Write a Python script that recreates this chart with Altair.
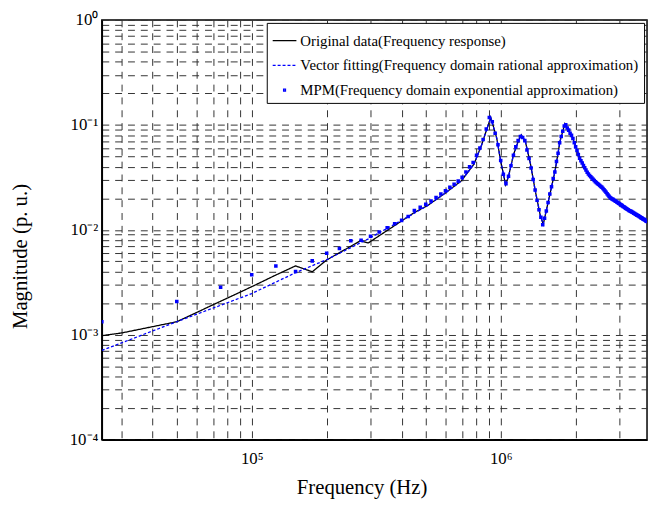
import altair as alt
import pandas as pd

S_ORIG = "Original data(Frequency response)"
S_VF = "Vector fitting(Frequency domain rational approximation)"
S_MPM = "MPM(Frequency domain exponential approximation)"
series_names = [S_ORIG, S_VF, S_MPM]

# Original data (black solid line)
orig_freq = [2.5e4, 3.0e4, 5.0e4, 1.0e5, 1.256e5, 1.5e5, 1.75e5, 2.0e5, 2.73e5, 2.94e5,
             4.52e5, 5.08e5, 5.94e5, 6.94e5, 7.81e5, 8.4e5, 8.65e5, 8.96e5, 9.12e5, 9.64e5,
             1.0e6, 1.047e6, 1.076e6, 1.127e6, 1.18e6, 1.21e6, 1.256e6, 1.315e6, 1.377e6, 1.442e6,
             1.482e6, 1.55e6, 1.653e6, 1.73e6, 1.81e6, 1.95e6, 2.08e6, 2.23e6, 2.4e6, 2.56e6,
             2.76e6, 2.99e6, 3.28e6, 3.6e6, 3.87e6]
orig_mag = [9.8e-4, 1.04e-3, 1.33e-3, 2.87e-3, 3.73e-3, 4.53e-3, 3.98e-3, 5.16e-3, 7.85e-3, 7.5e-3,
            0.0147, 0.0170, 0.0221, 0.0292, 0.0422, 0.0652, 0.081, 0.1035, 0.118, 0.0747,
            0.0451, 0.0268, 0.0326, 0.0525, 0.0711, 0.0804, 0.0695, 0.0432, 0.0235, 0.0137,
            0.0113, 0.0182, 0.0363, 0.0695, 0.1028, 0.0743, 0.0481, 0.0348, 0.0286, 0.0251,
            0.0202, 0.0177, 0.0153, 0.0134, 0.0120]

# Vector fitting (blue dashed line)
vf_freq = [2.5e4, 5.0e4, 1.0e5, 1.5e5, 2.0e5, 2.94e5, 4.52e5, 5.08e5, 5.94e5, 6.94e5,
           7.81e5, 8.4e5, 8.65e5, 8.96e5, 9.12e5, 9.64e5, 1.0e6, 1.047e6, 1.076e6, 1.127e6,
           1.18e6, 1.21e6, 1.256e6, 1.315e6, 1.377e6, 1.442e6, 1.482e6, 1.55e6, 1.653e6, 1.73e6,
           1.81e6, 1.95e6, 2.08e6, 2.23e6, 2.4e6, 2.56e6, 2.76e6, 2.99e6, 3.28e6, 3.6e6, 3.87e6]
vf_mag = [7.1e-4, 1.33e-3, 2.47e-3, 3.9e-3, 5.2e-3, 8.2e-3, 0.0145, 0.0170, 0.0221, 0.0292,
          0.0422, 0.0652, 0.081, 0.1035, 0.117, 0.0747, 0.0451, 0.0270, 0.0326, 0.0525,
          0.0711, 0.0800, 0.0695, 0.0432, 0.0235, 0.0137, 0.0114, 0.0182, 0.0363, 0.0695,
          0.1020, 0.0743, 0.0481, 0.0348, 0.0286, 0.0251, 0.0202, 0.0177, 0.0153, 0.0134, 0.0120]

# MPM samples (blue dots), uniform 25 kHz grid
mpm_freq = [25000 * n for n in range(1, 156)]
mpm_mag = [0.00133, 0.00207, 0.00283, 0.00373, 0.00453, 0.00400, 0.00506, 0.00597, 0.00665, 0.00785,
           0.00794, 0.00869, 0.00955, 0.01047, 0.01143, 0.0123, 0.0134, 0.0153, 0.0164, 0.0175,
           0.0188, 0.0203, 0.0219, 0.0235, 0.0254, 0.0272, 0.0291, 0.0316, 0.0355, 0.0398,
           0.0437, 0.0513, 0.0603, 0.0724, 0.0912, 0.1175, 0.1072, 0.0832, 0.0646, 0.0457,
           0.0339, 0.0275, 0.0324, 0.0407, 0.0513, 0.0617, 0.0708, 0.0776, 0.0759, 0.0708,
           0.0575, 0.0479, 0.0389, 0.0302, 0.0240, 0.0191, 0.0155, 0.0132, 0.0112, 0.0129,
           0.0151, 0.0182, 0.0219, 0.0257, 0.0309, 0.0355, 0.0447, 0.0537, 0.0676, 0.0776,
           0.0871, 0.0977, 0.1000, 0.0933, 0.0891, 0.0832, 0.0794, 0.0741, 0.0676, 0.0617,
           0.0570, 0.0522, 0.0481, 0.0456, 0.0433, 0.0411, 0.0390, 0.0372, 0.0353, 0.0340,
           0.0330, 0.0321, 0.0312, 0.0303, 0.0295, 0.0287, 0.0281, 0.0275, 0.0270, 0.0264,
           0.0259, 0.0254, 0.0248, 0.0241, 0.0234, 0.0228, 0.0221, 0.0215, 0.0209, 0.0203,
           0.0200, 0.0197, 0.0195, 0.0192, 0.0189, 0.0187, 0.0184, 0.0182, 0.0179, 0.0177,
           0.0174, 0.0172, 0.0170, 0.0167, 0.0166, 0.0163, 0.0161, 0.0159, 0.0157, 0.0155,
           0.0153, 0.0152, 0.0150, 0.0149, 0.0147, 0.0146, 0.0144, 0.0143, 0.0141, 0.0140,
           0.0138, 0.0137, 0.0136, 0.0134, 0.0133, 0.0131, 0.0130, 0.0129, 0.0127, 0.0126,
           0.0125, 0.0124, 0.0122, 0.0121, 0.0120]

x_grid = [3e4, 4e4, 5e4, 6e4, 7e4, 8e4, 9e4,
          1e5, 2e5, 3e5, 4e5, 5e5, 6e5, 7e5, 8e5, 9e5,
          1e6, 2e6, 3e6]
y_grid = [1e-4, 2e-4, 3e-4, 4e-4, 5e-4, 6e-4, 7e-4, 8e-4, 9e-4,
          1e-3, 2e-3, 3e-3, 4e-3, 5e-3, 6e-3, 7e-3, 8e-3, 9e-3,
          1e-2, 2e-2, 3e-2, 4e-2, 5e-2, 6e-2, 7e-2, 8e-2, 9e-2,
          1e-1, 2e-1, 3e-1, 4e-1, 5e-1, 6e-1, 7e-1, 8e-1, 9e-1, 1.0]
x_labels = "datum.value == 100000 ? '10\u2075' : (datum.value == 1000000 ? '10\u2076' : '')"
y_labels = ("datum.value == 1 ? '10\u2070' : datum.value == 0.1 ? '10\u207b\u00b9' : "
            "datum.value == 0.01 ? '10\u207b\u00b2' : datum.value == 0.001 ? '10\u207b\u00b3' : "
            "datum.value == 0.0001 ? '10\u207b\u2074' : ''")

lines_df = pd.concat([
    pd.DataFrame({"freq": orig_freq, "mag": orig_mag, "series": S_ORIG}),
    pd.DataFrame({"freq": vf_freq, "mag": vf_mag, "series": S_VF}),
])
mpm_df = pd.DataFrame({"freq": mpm_freq, "mag": mpm_mag, "series": S_MPM})

FONT = "Liberation Serif"
SQ = "M-0.08,-0.08H0.08V0.08H-0.08Z"

x_enc = alt.X("freq:Q",
              scale=alt.Scale(type="log", domain=[2.5e4, 3.87e6], nice=False),
              axis=alt.Axis(values=x_grid, labelExpr=x_labels, title="Frequency (Hz)",
                            titleX=263, titleY=48, titleBaseline="middle",
                            labelPadding=11, labelFlush=False, labelOverlap=False))
y_enc = alt.Y("mag:Q",
              scale=alt.Scale(type="log", domain=[1e-4, 1], nice=False),
              axis=alt.Axis(values=y_grid, labelExpr=y_labels, title="Magnitude (p. u.)",
                            titleX=-82, titleY=239, titleBaseline="middle",
                            labelPadding=4, labelFlush=False, labelOverlap=False))

color_scale = alt.Scale(domain=series_names, range=["#000000", "#0000ff", "#0000ff"])
dash_scale = alt.Scale(domain=series_names, range=[[1, 0], [3, 2], [1, 0]])
shape_scale = alt.Scale(domain=series_names, range=["stroke", "stroke", SQ])
leg = alt.Legend(title=None)

lines = alt.Chart(lines_df).mark_line(strokeWidth=1.3, clip=True).encode(
    x=x_enc, y=y_enc,
    color=alt.Color("series:N", scale=color_scale, legend=leg),
    strokeDash=alt.StrokeDash("series:N", scale=dash_scale, legend=leg),
)
points = alt.Chart(mpm_df).mark_point(filled=False, strokeWidth=2.2, size=300,
                                       opacity=1, clip=True).encode(
    x=x_enc, y=y_enc,
    color=alt.Color("series:N", scale=color_scale, legend=leg),
    shape=alt.Shape("series:N", scale=shape_scale, legend=leg),
)

chart = alt.layer(lines, points).properties(
    width=552, height=425,
    autosize=alt.AutoSizeParams(type="none"),
    padding={"left": 95, "top": 9, "right": 2, "bottom": 60},
).configure_view(
    stroke="black", strokeWidth=1.5
).configure_axis(
    labelFont=FONT, titleFont=FONT, labelFontSize=17, titleFontSize=21,
    labelColor="black", titleColor="black", titleFontWeight="normal",
    domainColor="black", domainWidth=1.5, ticks=False,
    grid=True, gridColor="#333333", gridDash=[7, 6], gridWidth=1, gridOpacity=1,
).configure_legend(
    orient="top-right", offset=3, padding=5, strokeColor="black", fillColor="white",
    labelFont=FONT, labelFontSize=15, labelColor="black", labelLimit=1000,
    labelOffset=3, symbolSize=576, symbolStrokeWidth=1.3, rowPadding=4,
    cornerRadius=0, symbolOpacity=1,
)

chart.save("out.html", embed_options={"renderer": "svg", "actions": False})
